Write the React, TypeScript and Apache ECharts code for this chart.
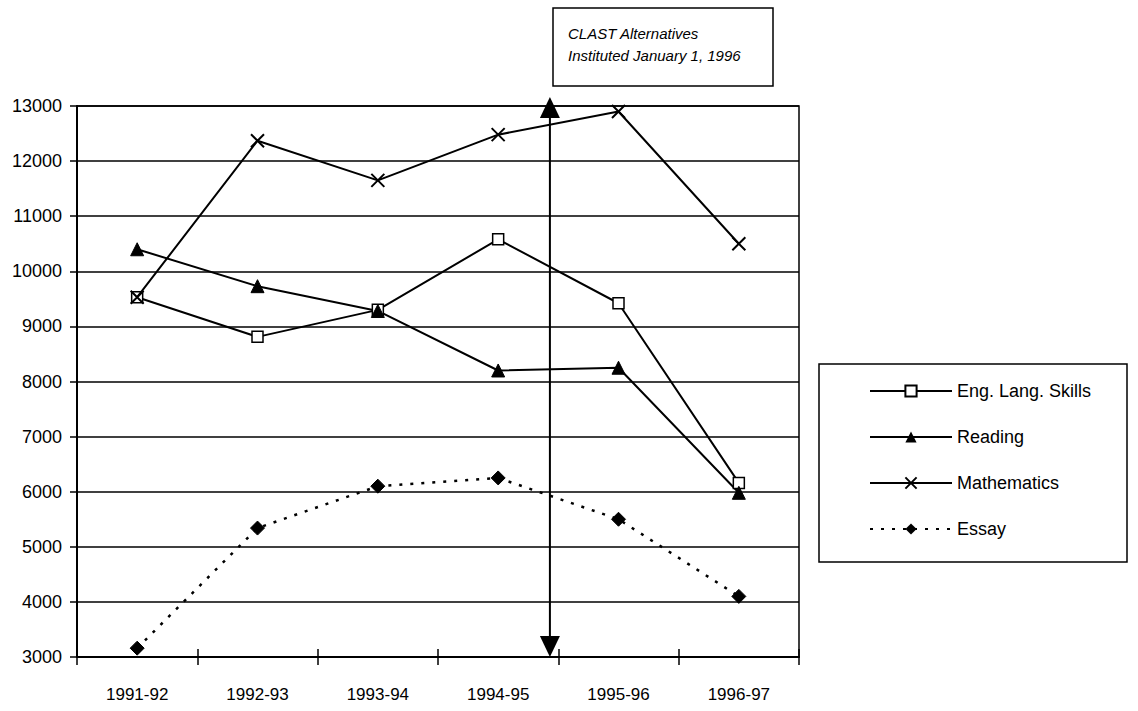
import React, { useEffect, useRef } from "react";
import * as echarts from "echarts";

const years = ["1991-92", "1992-93", "1993-94", "1994-95", "1995-96", "1996-97"];
const engLangSkills = [9530, 8810, 9300, 10580, 9420, 6160];
const reading = [10400, 9730, 9280, 8200, 8250, 5980];
const mathematics = [9530, 12370, 11650, 12480, 12900, 10500];
const essay = [3160, 5340, 6100, 6250, 5500, 4100];
const yMin = 3000;
const yMax = 13000;
const yStep = 1000;
const noteLines = ["CLAST Alternatives", "Instituted January 1, 1996"];

const FONT = "'Liberation Sans', Arial, sans-serif";

export default function App() {
  const ref = useRef<HTMLDivElement>(null);

  useEffect(() => {
    if (!ref.current) return;
    const chart = echarts.init(ref.current, undefined, { renderer: "svg" });

    const baseLine = { color: "#000", width: 2 };

    chart.setOption({
      animation: false,
      backgroundColor: "#fff",
      textStyle: { fontFamily: FONT, color: "#000" },
      grid: {
        left: 77,
        right: 339,
        top: 106,
        bottom: 54,
        show: true,
        borderColor: "#000",
        borderWidth: 1.5,
        backgroundColor: "transparent",
      },
      legend: {
        orient: "vertical",
        left: 864,
        top: 377,
        itemWidth: 82,
        itemHeight: 14,
        itemGap: 28,
        textStyle: { fontFamily: FONT, fontSize: 18, color: "#000" },
        data: ["Eng. Lang. Skills", "Reading", "Mathematics", "Essay"],
      },
      xAxis: [
        {
          type: "category",
          data: years,
          boundaryGap: true,
          axisLine: { lineStyle: { color: "#000", width: 2 } },
          axisTick: { show: true, length: 8, lineStyle: { color: "#000", width: 1.5 } },
          axisLabel: { color: "#000", fontSize: 17, fontFamily: FONT, margin: 29 },
          splitLine: { show: false },
        },
        {
          type: "category",
          data: years,
          position: "bottom",
          boundaryGap: true,
          axisLine: { show: false },
          axisTick: { show: true, inside: true, length: 8, lineStyle: { color: "#000", width: 1.5 } },
          axisLabel: { show: false },
          splitLine: { show: false },
        },
      ],
      yAxis: {
        type: "value",
        min: yMin,
        max: yMax,
        interval: yStep,
        axisLine: { show: true, lineStyle: { color: "#000", width: 2 } },
        axisTick: { show: true, length: 7, lineStyle: { color: "#000", width: 1.5 } },
        axisLabel: {
          color: "#000",
          fontSize: 18,
          fontFamily: FONT,
          margin: 15,
          formatter: (v: number) => String(v),
        },
        splitLine: { show: true, lineStyle: { color: "#000", width: 1.5 } },
      },
      series: [
        {
          name: "Eng. Lang. Skills",
          type: "line",
          data: engLangSkills,
          symbol: "rect",
          symbolSize: 11,
          showAllSymbol: true,
          lineStyle: baseLine,
          itemStyle: { color: "#fff", borderColor: "#000", borderWidth: 1.5 },
          z: 3,
        },
        {
          name: "Reading",
          type: "line",
          data: reading,
          symbol: "triangle",
          symbolSize: 13,
          lineStyle: baseLine,
          itemStyle: { color: "#000", borderColor: "#000" },
          z: 3,
        },
        {
          name: "Mathematics",
          type: "line",
          data: mathematics,
          symbol: "path://M0,0L10,10M10,0L0,10",
          symbolSize: 13,
          lineStyle: baseLine,
          itemStyle: { color: "rgba(0,0,0,0)", borderColor: "#000", borderWidth: 2 },
          z: 4,
        },
        {
          name: "Essay",
          type: "line",
          data: essay,
          symbol: "diamond",
          symbolSize: 14,
          lineStyle: { color: "#000", width: 2.5, type: [3, 8] },
          itemStyle: { color: "#000", borderColor: "#000" },
          z: 3,
        },
      ],
    });

    // Policy-change marker: vertical double arrow just before the 1995-96 category,
    // plus the boxed note and the legend frame.
    const xA = chart.convertToPixel({ xAxisIndex: 0 }, "1994-95") as number;
    const xB = chart.convertToPixel({ xAxisIndex: 0 }, "1995-96") as number;
    const yTop = chart.convertToPixel({ yAxisIndex: 0 }, yMax) as number;
    const yBot = chart.convertToPixel({ yAxisIndex: 0 }, yMin) as number;
    const ax = xA + (xB - xA) * 0.43;

    chart.setOption({
      graphic: [
        {
          type: "line",
          shape: { x1: ax, y1: yTop + 10, x2: ax, y2: yBot - 16 },
          style: { stroke: "#000", lineWidth: 2 },
          z: 10,
        },
        {
          type: "polygon",
          shape: { points: [[ax, yTop - 9], [ax - 10, yTop + 12], [ax + 10, yTop + 12]] },
          style: { fill: "#000" },
          z: 10,
        },
        {
          type: "polygon",
          shape: { points: [[ax, yBot], [ax - 10, yBot - 21], [ax + 10, yBot - 21]] },
          style: { fill: "#000" },
          z: 10,
        },
        {
          type: "rect",
          shape: { x: 553, y: 8, width: 220, height: 78 },
          style: { fill: "#fff", stroke: "#000", lineWidth: 1.5 },
          z: 10,
        },
        {
          type: "text",
          x: 568,
          y: 22,
          style: {
            text: noteLines.join("\n"),
            fontFamily: FONT,
            fontStyle: "italic",
            fontSize: 15,
            lineHeight: 22,
            fill: "#000",
          },
          z: 11,
        },
        {
          type: "rect",
          shape: { x: 819, y: 364, width: 308, height: 198 },
          style: { fill: "none", stroke: "#000", lineWidth: 1.5 },
          z: 1,
        },
      ],
    });

    return () => chart.dispose();
  }, []);

  return (
    <div
      ref={ref}
      style={{ position: "fixed", left: 0, top: 0, width: 1138, height: 711, background: "#fff" }}
    />
  );
}
